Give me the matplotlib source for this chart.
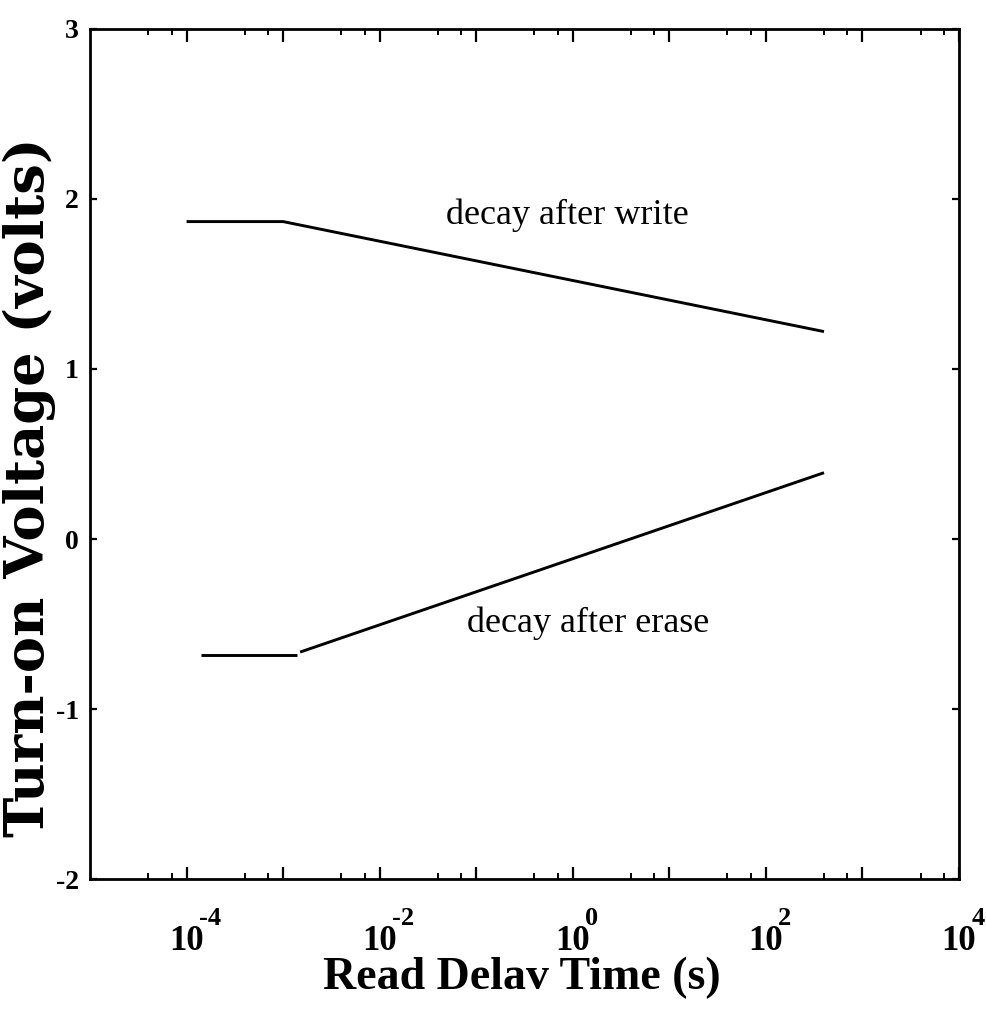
import matplotlib
matplotlib.use("Agg")
import matplotlib.pyplot as plt
from matplotlib.ticker import LogLocator, FixedLocator
from matplotlib import transforms

# ---- data ----
write_t = [1e-4, 1e-3, 400]
write_v = [1.867, 1.867, 1.22]

erase_flat_t = [1.4e-4, 1.4e-3]
erase_flat_v = [-0.68, -0.68]
erase_t = [1.5e-3, 400]
erase_v = [-0.665, 0.39]

x_major = [1e-4, 1e-3, 1e-2, 1e-1, 1e0, 1e1, 1e2, 1e3, 1e4]
x_labels = ["10", "", "10", "", "10", "", "10", "", "10"]
x_exponents = ["-4", "", "-2", "", "0", "", "2", "", "4"]
y_ticks = [-2, -1, 0, 1, 2, 3]
y_labels = ["-2", "-1", "0", "1", "2", "3"]

fig = plt.figure(figsize=(9.87, 10.09), dpi=100)
ax = fig.add_axes([0.0912, 0.1288, 0.9716 - 0.0912, 0.9713 - 0.1288])

ax.plot(write_t, write_v, color="black", lw=2.1, solid_capstyle="butt")
ax.plot(erase_flat_t, erase_flat_v, color="black", lw=2.1, solid_capstyle="butt")
ax.plot(erase_t, erase_v, color="black", lw=2.1, solid_capstyle="butt")

ax.set_xscale("log")
ax.set_xlim(1e-5, 1e4)
ax.set_ylim(-2, 3)

ax.xaxis.set_major_locator(FixedLocator(x_major))
ax.set_xticks(x_major, labels=x_labels)
ax.xaxis.set_minor_locator(LogLocator(base=10, subs=(4.0, 7.0), numticks=30))
ax.xaxis.set_minor_formatter(plt.NullFormatter())
ax.set_yticks(y_ticks, labels=y_labels)

for s in ax.spines.values():
    s.set_linewidth(2.0)

ax.tick_params(axis="x", which="major", direction="in", top=True, bottom=True,
               length=9, width=1.6, pad=33)
ax.tick_params(axis="x", which="minor", direction="in", top=True, bottom=True,
               length=4, width=1.4)
ax.tick_params(axis="y", which="major", direction="in", left=True, right=True,
               length=5, width=1.6, pad=8)

for lab in ax.get_xticklabels():
    lab.set_fontfamily("Liberation Serif")
    lab.set_fontweight("bold")
    lab.set_fontsize(25)
for lab in ax.get_yticklabels():
    lab.set_fontfamily("Liberation Serif")
    lab.set_fontweight("bold")
    lab.set_fontsize(20)

# exponents of the x tick labels
blend = transforms.blended_transform_factory(ax.transData, ax.transAxes)
exp_tr = transforms.offset_copy(blend, fig=fig, x=9, y=-33, units="points")
for xv, ex in zip(x_major, x_exponents):
    if ex:
        ax.text(xv, 0, ex, transform=exp_tr, fontfamily="Liberation Serif",
                fontweight="bold", fontsize=19, ha="left", va="baseline",
                clip_on=False)

ax.set_xlabel("Read Delav Time (s)", fontfamily="Liberation Serif",
              fontweight="bold", fontsize=33)
ax.xaxis.set_label_coords(0.497, -0.091)
ax.set_ylabel("Turn-on Voltage (volts)", fontfamily="DejaVu Serif",
              fontweight="bold", fontsize=39)
ax.yaxis.set_label_coords(-0.039, 0.461)

ax.text(10 ** -0.06, 1.905, "decay after write", fontfamily="Liberation Serif",
        fontsize=26, ha="center", va="center")
ax.text(10 ** 0.156, -0.494, "decay after erase", fontfamily="Liberation Serif",
        fontsize=26, ha="center", va="center")

fig.savefig("out.png", dpi=100, facecolor="white")
